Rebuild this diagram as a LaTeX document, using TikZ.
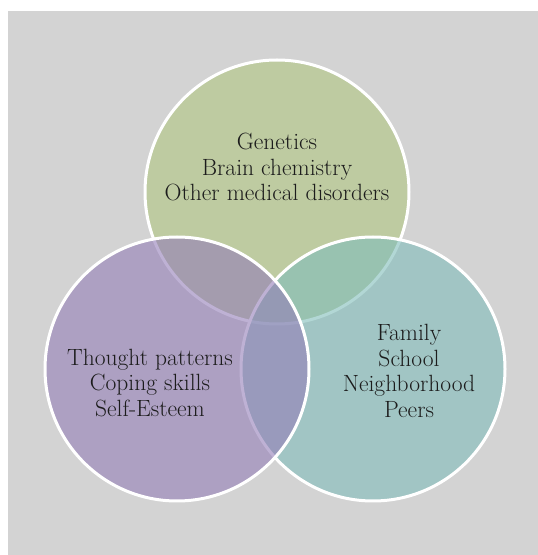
\documentclass[tikz,border=0pt]{standalone}
\definecolor{bggray}{RGB}{211,211,211}
\definecolor{biogreen}{RGB}{176,198,128}
\definecolor{socteal}{RGB}{128,189,186}
\definecolor{psypurple}{RGB}{148,126,184}
\definecolor{txtgray}{RGB}{28,28,28}
\begin{document}
\begin{tikzpicture}[x=1pt,y=1pt,
    venn/.style={circle,draw=white,line width=3pt,minimum size=264pt,
        fill opacity=0.6,draw opacity=1},
    lbl/.style={align=center,text=txtgray,font=\fontsize{23.5}{25.5}\selectfont}]
    \useasboundingbox (0,0) rectangle (538,555);
    \fill[bggray] (8,0) rectangle (538,544);

    \node[venn,fill=biogreen] (bio) at (277,363) {};
    \node[venn,fill=socteal] (social) at (373,186) {};
    \node[venn,fill=psypurple] (psych) at (177,186) {};

    \node[lbl] (biotext) at (277,388) {Genetics\\Brain chemistry\\Other medical disorders};
    \node[lbl] (psychtext) at (150,172) {Thought patterns\\Coping skills\\Self-Esteem};
    \node[lbl] (socialtext) at (409,184) {Family\\School\\Neighborhood\\Peers};
\end{tikzpicture}
\end{document}
